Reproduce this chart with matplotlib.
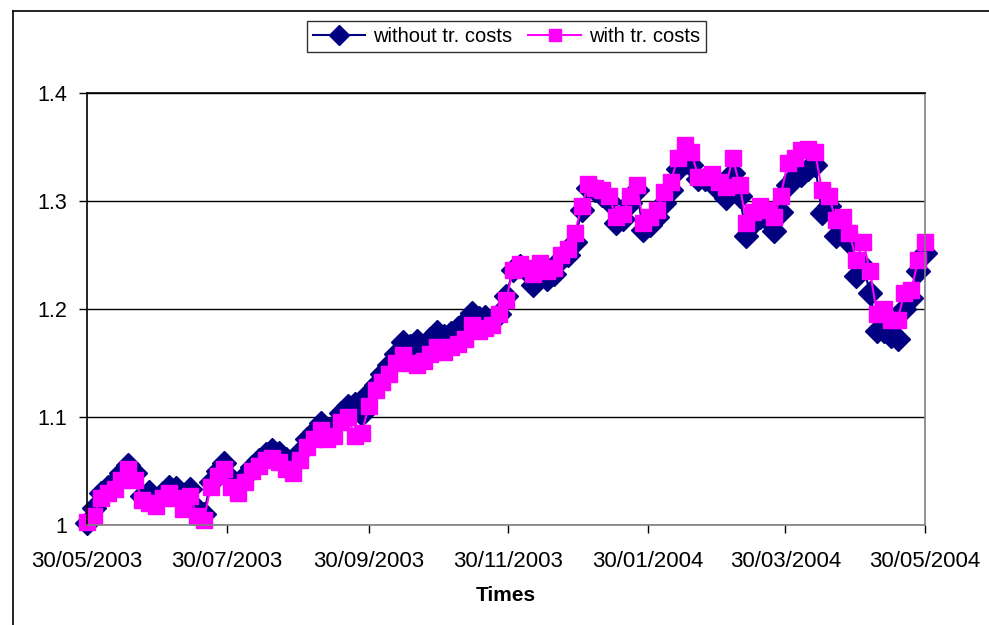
import numpy as np
import pandas as pd
import matplotlib
matplotlib.use("Agg")
import matplotlib.pyplot as plt
import matplotlib.dates as mdates
from matplotlib.lines import Line2D

plt.rcParams['font.family'] = ['Liberation Sans', 'DejaVu Sans']

# observation dates, one every three days over the year
dates = pd.date_range("2003-05-30", "2004-05-30", freq="3D")

without_costs = [
    1.002, 1.016, 1.030, 1.035, 1.040, 1.048, 1.056, 1.048, 1.027, 1.031,
    1.022, 1.030, 1.035, 1.034, 1.022, 1.033, 1.015, 1.010, 1.040, 1.050,
    1.057, 1.043, 1.036, 1.045, 1.054, 1.060, 1.066, 1.069, 1.067, 1.061,
    1.060, 1.068, 1.080, 1.086, 1.094, 1.088, 1.092, 1.104, 1.110, 1.112,
    1.103, 1.122, 1.130, 1.140, 1.148, 1.158, 1.169, 1.166, 1.170, 1.162,
    1.172, 1.179, 1.175, 1.178, 1.182, 1.188, 1.196, 1.192, 1.193, 1.190,
    1.195, 1.212, 1.236, 1.240, 1.235, 1.222, 1.238, 1.228, 1.232, 1.246,
    1.250, 1.262, 1.292, 1.312, 1.310, 1.306, 1.300, 1.280, 1.283, 1.298,
    1.310, 1.273, 1.278, 1.285, 1.298, 1.310, 1.330, 1.336, 1.333, 1.320,
    1.320, 1.318, 1.310, 1.303, 1.326, 1.305, 1.268, 1.280, 1.285, 1.283,
    1.272, 1.290, 1.315, 1.322, 1.324, 1.330, 1.333, 1.289, 1.295, 1.268,
    1.272, 1.262, 1.231, 1.240, 1.215, 1.180, 1.180, 1.175, 1.172, 1.200,
    1.210, 1.235, 1.252,
]

with_costs = [
    1.003, 1.008, 1.025, 1.030, 1.033, 1.042, 1.052, 1.042, 1.023, 1.020,
    1.018, 1.025, 1.030, 1.025, 1.015, 1.027, 1.008, 1.005, 1.035, 1.045,
    1.052, 1.035, 1.030, 1.040, 1.050, 1.055, 1.060, 1.062, 1.058, 1.052,
    1.048, 1.060, 1.072, 1.080, 1.088, 1.080, 1.082, 1.095, 1.100, 1.082,
    1.085, 1.110, 1.125, 1.132, 1.140, 1.150, 1.157, 1.150, 1.148, 1.152,
    1.158, 1.165, 1.160, 1.165, 1.168, 1.172, 1.185, 1.180, 1.182, 1.185,
    1.195, 1.208, 1.236, 1.242, 1.238, 1.232, 1.243, 1.235, 1.238, 1.250,
    1.256, 1.270, 1.295, 1.316, 1.312, 1.310, 1.305, 1.285, 1.288, 1.305,
    1.315, 1.280, 1.285, 1.292, 1.308, 1.318, 1.340, 1.352, 1.345, 1.322,
    1.322, 1.325, 1.318, 1.313, 1.340, 1.315, 1.280, 1.290, 1.295, 1.292,
    1.285, 1.305, 1.335, 1.340, 1.347, 1.348, 1.345, 1.310, 1.305, 1.282,
    1.285, 1.270, 1.245, 1.262, 1.235, 1.195, 1.200, 1.190, 1.190, 1.215,
    1.218, 1.245, 1.262,
]

tick_dates = ["2003-05-30", "2003-07-30", "2003-09-30", "2003-11-30",
              "2004-01-30", "2004-03-30", "2004-05-30"]
y_ticks = [1.0, 1.1, 1.2, 1.3, 1.4]
y_labels = ["1", "1.1", "1.2", "1.3", "1.4"]

fig = plt.figure(figsize=(9.89, 6.25), dpi=100)
ax = fig.add_axes([0.088, 0.16, 0.8473, 0.6912])

ax.plot(dates, without_costs, color="#000080", lw=1.5, marker="D",
        markersize=12, markeredgecolor="#000080", label="without tr. costs",
        clip_on=False)
ax.plot(dates, with_costs, color="#FF00FF", lw=1.5, marker="s",
        markersize=11, markeredgecolor="#FF00FF", label="with tr. costs",
        clip_on=False)

ax.set_xlim(pd.Timestamp("2003-05-30"), pd.Timestamp("2004-05-30"))
ax.set_ylim(1.0, 1.4)
ax.set_xticks(pd.to_datetime(tick_dates))
ax.xaxis.set_major_formatter(mdates.DateFormatter("%d/%m/%Y"))
ax.set_yticks(y_ticks)
ax.set_yticklabels(y_labels)
ax.tick_params(axis="both", length=6, width=1, color="black",
               direction="out", pad=6)
ax.tick_params(axis="x", labelsize=16, pad=13)
ax.tick_params(axis="y", labelsize=15.5, pad=8)

ax.grid(axis="y", color="black", lw=1)
ax.set_axisbelow(True)
ax.spines["left"].set_color("black")
ax.spines["bottom"].set_color("#808080")
ax.spines["right"].set_color("#808080")
ax.spines["top"].set_color("black")
for s in ax.spines.values():
    s.set_linewidth(1.2)

ax.set_xlabel("Times", fontsize=15, fontweight="bold", labelpad=10)

leg = fig.legend(loc="center", bbox_to_anchor=(0.512, 0.942), ncol=2,
                 fontsize=14.5, frameon=True, fancybox=False,
                 handlelength=2.6, columnspacing=0.8, handletextpad=0.4,
                 borderpad=0.3, markerscale=0.85)
leg.get_frame().set_edgecolor("black")
leg.get_frame().set_linewidth(1)

# outer chart frame (top and left edges)
fig.add_artist(Line2D([13 / 989, 1.0], [1 - 11 / 625, 1 - 11 / 625],
                      transform=fig.transFigure, color="black", lw=1.2))
fig.add_artist(Line2D([13 / 989, 13 / 989], [0.0, 1 - 11 / 625],
                      transform=fig.transFigure, color="black", lw=1.2))

fig.savefig("out.png", dpi=100)
